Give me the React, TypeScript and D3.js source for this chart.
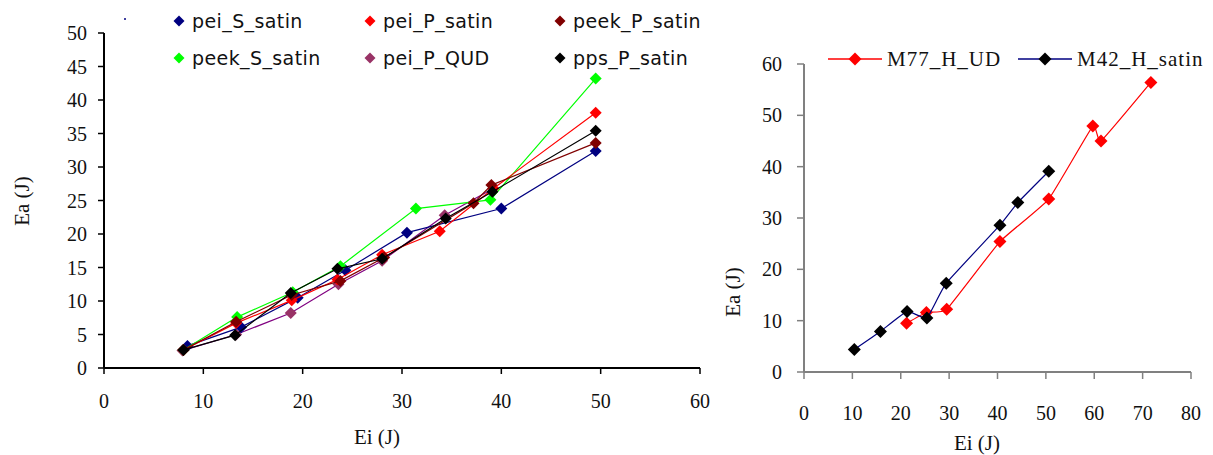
import React from "react";
import * as d3 from "d3";

// ---- Left chart data ----
const peiSSatinX = [8.4, 13.8, 19.5, 24.3, 30.5, 40.0, 49.5];
const peiSSatinY = [3.3, 6.1, 10.5, 14.6, 20.2, 23.8, 32.4];
const peiPSatinX = [8.0, 13.3, 18.9, 23.5, 28.0, 33.8, 39.2, 49.5];
const peiPSatinY = [2.7, 6.7, 10.1, 13.2, 16.9, 20.4, 26.8, 38.1];
const peekPSatinX = [8.0, 13.3, 18.9, 23.8, 28.2, 37.2, 39.0, 49.5];
const peekPSatinY = [2.7, 6.9, 10.9, 13.0, 16.5, 24.6, 27.3, 33.6];
const peekSSatinX = [8.0, 13.4, 19.0, 23.8, 31.4, 38.9, 49.5];
const peekSSatinY = [2.7, 7.6, 11.3, 15.2, 23.8, 25.1, 43.2];
const peiPQudX = [7.9, 13.3, 18.8, 23.6, 28.0, 34.3, 39.2];
const peiPQudY = [2.6, 5.0, 8.2, 12.5, 16.0, 22.8, 26.8];
const ppsPSatinX = [8.0, 13.2, 18.8, 23.5, 28.0, 34.4, 39.1, 49.5];
const ppsPSatinY = [2.7, 4.9, 11.2, 14.8, 16.3, 22.3, 26.3, 35.4];

const leftXTicks = [0, 10, 20, 30, 40, 50, 60];
const leftYTicks = [0, 5, 10, 15, 20, 25, 30, 35, 40, 45, 50];

// ---- Right chart data ----
const m77X = [21.2, 25.3, 29.5, 40.5, 50.6, 59.7, 61.4, 71.7];
const m77Y = [9.5, 11.6, 12.2, 25.4, 33.7, 47.9, 45.0, 56.4];
const m42X = [10.4, 15.8, 21.3, 25.4, 29.4, 40.5, 44.2, 50.6];
const m42Y = [4.4, 7.9, 11.8, 10.5, 17.3, 28.6, 33.0, 39.1];

const rightXTicks = [0, 10, 20, 30, 40, 50, 60, 70, 80];
const rightYTicks = [0, 10, 20, 30, 40, 50, 60];

const leftSeries = [
  { name: "pei_S_satin", xs: peiSSatinX, ys: peiSSatinY, line: "#000080", marker: "#000080" },
  { name: "pei_P_satin", xs: peiPSatinX, ys: peiPSatinY, line: "#FF0000", marker: "#FF0000" },
  { name: "peek_P_satin", xs: peekPSatinX, ys: peekPSatinY, line: "#800000", marker: "#800000" },
  { name: "peek_S_satin", xs: peekSSatinX, ys: peekSSatinY, line: "#00FF00", marker: "#00FF00" },
  { name: "pei_P_QUD", xs: peiPQudX, ys: peiPQudY, line: "#800080", marker: "#993366" },
  { name: "pps_P_satin", xs: ppsPSatinX, ys: ppsPSatinY, line: "#000000", marker: "#000000" },
];
const drawOrder = [4, 0, 3, 1, 2, 5];

const rightSeries = [
  { name: "M77_H_UD", xs: m77X, ys: m77Y, line: "#FF0000", marker: "#FF0000" },
  { name: "M42_H_satin", xs: m42X, ys: m42Y, line: "#000080", marker: "#000000" },
];

const diamond = (cx: number, cy: number, r: number) =>
  `M${cx},${cy - r}L${cx + r},${cy}L${cx},${cy + r}L${cx - r},${cy}Z`;

const serif = "'Liberation Serif', 'Times New Roman', serif";
const sans = "'DejaVu Sans', Arial, sans-serif";

export default function App() {
  const lx = d3.scaleLinear().domain([0, 60]).range([104, 700]);
  const ly = d3.scaleLinear().domain([0, 50]).range([368, 33]);
  const rx = d3.scaleLinear().domain([0, 80]).range([804, 1191]);
  const ry = d3.scaleLinear().domain([0, 60]).range([372, 64]);

  const leftLine = (xs: number[], ys: number[]) =>
    d3
      .line<number>()
      .x((_, i) => lx(xs[i]))
      .y((_, i) => ly(ys[i]))(xs) || "";
  const rightLine = (xs: number[], ys: number[]) =>
    d3
      .line<number>()
      .x((_, i) => rx(xs[i]))
      .y((_, i) => ry(ys[i]))
      .curve(d3.curveCardinal.tension(0.65))(xs) || "";

  const legendPos = [
    { x: 179, y: 21 },
    { x: 370, y: 21 },
    { x: 560, y: 21 },
    { x: 179, y: 58 },
    { x: 370, y: 58 },
    { x: 560, y: 58 },
  ];

  return (
    <svg
      width={1213}
      height={455}
      style={{ position: "absolute", left: 0, top: 0, background: "#fff" }}
    >
      <rect x={0} y={0} width={1213} height={455} fill="#fff" />
      {/* ===== Left chart ===== */}
      <g>
        <line x1={lx(0)} x2={lx(0)} y1={ly(0)} y2={ly(50)} stroke="#000" strokeWidth={2} />
        <line x1={lx(0)} x2={lx(60)} y1={ly(0)} y2={ly(0)} stroke="#000" strokeWidth={2} />
        {leftYTicks.map((t) => (
          <g key={"ly" + t}>
            <line x1={lx(0) - 6} x2={lx(0)} y1={ly(t)} y2={ly(t)} stroke="#000" strokeWidth={1.5} />
            <text
              x={87}
              y={ly(t)}
              dy="0.35em"
              textAnchor="end"
              fontFamily={serif}
              fontSize={20}
              fill="#111"
            >
              {t}
            </text>
          </g>
        ))}
        {leftXTicks.map((t) => (
          <g key={"lx" + t}>
            <line x1={lx(t)} x2={lx(t)} y1={ly(0)} y2={ly(0) + 6} stroke="#000" strokeWidth={1.5} />
            <text
              x={lx(t)}
              y={401}
              dy="0.35em"
              textAnchor="middle"
              fontFamily={serif}
              fontSize={20}
              fill="#111"
            >
              {t}
            </text>
          </g>
        ))}
        <text
          x={377}
          y={437}
          dy="0.35em"
          textAnchor="middle"
          fontFamily={serif}
          fontSize={21}
          fill="#111"
        >
          Ei (J)
        </text>
        <text
          transform={`translate(22,201) rotate(-90)`}
          dy="0.35em"
          textAnchor="middle"
          fontFamily={serif}
          fontSize={21}
          fill="#111"
        >
          Ea (J)
        </text>
        {drawOrder.map((si) => {
          const s = leftSeries[si];
          return (
            <g key={s.name}>
              <path d={leftLine(s.xs, s.ys)} fill="none" stroke={s.line} strokeWidth={1.2} />
              {s.xs.map((x, i) => (
                <path key={i} d={diamond(lx(x), ly(s.ys[i]), 6)} fill={s.marker} />
              ))}
            </g>
          );
        })}
        <circle cx={125} cy={19} r={1} fill="#000080" />
        {leftSeries.map((s, i) => (
          <g key={"lg" + s.name}>
            <path d={diamond(legendPos[i].x, legendPos[i].y, 5.5)} fill={s.marker} />
            <text
              x={legendPos[i].x + 13}
              y={legendPos[i].y}
              dy="0.35em"
              fontFamily={sans}
              fontSize={19}
              letterSpacing={0.4}
              fill="#111"
            >
              {s.name}
            </text>
          </g>
        ))}
      </g>

      {/* ===== Right chart ===== */}
      <g>
        <line x1={rx(0)} x2={rx(0)} y1={ry(0)} y2={ry(60)} stroke="#808080" strokeWidth={2} />
        <line x1={rx(0)} x2={rx(80)} y1={ry(0)} y2={ry(0)} stroke="#808080" strokeWidth={2} />
        {rightYTicks.map((t) => (
          <g key={"ry" + t}>
            <line x1={rx(0) - 7} x2={rx(0)} y1={ry(t)} y2={ry(t)} stroke="#808080" strokeWidth={1.5} />
            <text
              x={782}
              y={ry(t)}
              dy="0.35em"
              textAnchor="end"
              fontFamily={serif}
              fontSize={20}
              fill="#111"
            >
              {t}
            </text>
          </g>
        ))}
        {rightXTicks.map((t) => (
          <g key={"rx" + t}>
            <line x1={rx(t)} x2={rx(t)} y1={ry(0)} y2={ry(0) + 7} stroke="#808080" strokeWidth={1.5} />
            <text
              x={rx(t)}
              y={413}
              dy="0.35em"
              textAnchor="middle"
              fontFamily={serif}
              fontSize={20}
              fill="#111"
            >
              {t}
            </text>
          </g>
        ))}
        <text
          x={977}
          y={443}
          dy="0.35em"
          textAnchor="middle"
          fontFamily={serif}
          fontSize={21}
          fill="#111"
        >
          Ei (J)
        </text>
        <text
          transform={`translate(733,292) rotate(-90)`}
          dy="0.35em"
          textAnchor="middle"
          fontFamily={serif}
          fontSize={21}
          fill="#111"
        >
          Ea (J)
        </text>
        {rightSeries.map((s) => (
          <g key={s.name}>
            <path d={rightLine(s.xs, s.ys)} fill="none" stroke={s.line} strokeWidth={1.2} />
            {s.xs.map((x, i) => (
              <path key={i} d={diamond(rx(x), ry(s.ys[i]), 6.5)} fill={s.marker} />
            ))}
          </g>
        ))}
        {rightSeries.map((s, i) => {
          const x0 = i === 0 ? 828 : 1018;
          const y0 = 59;
          return (
            <g key={"rl" + s.name}>
              <line x1={x0} x2={x0 + 54} y1={y0} y2={y0} stroke={s.line} strokeWidth={1.5} />
              <path d={diamond(x0 + 27, y0, 6.5)} fill={s.marker} />
              <text
                x={x0 + 59}
                y={y0}
                dy="0.35em"
                fontFamily={serif}
                fontSize={21}
                letterSpacing={1}
                fill="#111"
              >
                {s.name}
              </text>
            </g>
          );
        })}
      </g>
    </svg>
  );
}
